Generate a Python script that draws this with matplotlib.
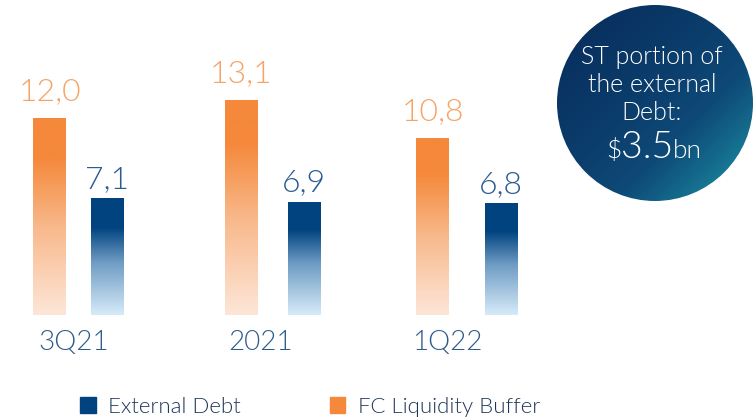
import numpy as np
import matplotlib
matplotlib.use("Agg")
import matplotlib.pyplot as plt
from matplotlib.colors import LinearSegmentedColormap
from matplotlib.patches import Circle, Rectangle
from matplotlib.offsetbox import TextArea, HPacker, AnnotationBbox

plt.rcParams['font.family'] = ['Lato', 'DejaVu Sans']

categories = ['3Q21', '2021', '1Q22']
fc_buffer = [12.0, 13.1, 10.8]
external_debt = [7.1, 6.9, 6.8]
fc_labels = ['12,0', '13,1', '10,8']
debt_labels = ['7,1', '6,9', '6,8']

ORANGE = '#F5883A'
NAVY = '#00437F'
LW = 300  # light weight

orange_cmap = LinearSegmentedColormap.from_list(
    'or', [(0, '#FDE6D8'), (0.45, '#F8B88A'), (0.8, ORANGE), (1, ORANGE)])
blue_cmap = LinearSegmentedColormap.from_list(
    'bl', [(0, '#D6EBF9'), (0.45, '#6F9CC4'), (0.75, NAVY), (1, NAVY)])
circle_cmap = LinearSegmentedColormap.from_list(
    'ci', ['#082F5E', '#0E4A78', '#1E9CA9'])

fig = plt.figure(figsize=(7.54, 4.18), dpi=100)
ax = fig.add_axes([0, 0, 1, 1])
XLIM = (-78.5 / 194, (754 - 78.5) / 194)
YLIM = (-103 / 16.42, 315 / 16.42)
ax.axis('off')

idx = np.arange(len(categories))
x_fc = -0.147 + 0.986 * idx
x_debt = 0.147 + 1.0155 * idx
x_cat = -0.023 + 0.961 * idx
w = 0.17

grad = np.linspace(0, 1, 256).reshape(-1, 1)


def gradient_bars(xs, vals, cmap):
    bars = ax.bar(xs, vals, width=w, color='none', edgecolor='none')
    for b in bars:
        x0, y0 = b.get_x(), b.get_y()
        im = ax.imshow(grad, cmap=cmap, origin='lower', aspect='auto',
                       extent=(x0, x0 + b.get_width(), y0, y0 + b.get_height()),
                       zorder=2)
        im.set_clip_path(b)
    return bars


gradient_bars(x_fc, fc_buffer, orange_cmap)
gradient_bars(x_debt, external_debt, blue_cmap)
ax.set_xlim(*XLIM)
ax.set_ylim(*YLIM)

for xi, v, lab in zip(x_fc, fc_buffer, fc_labels):
    ax.annotate(lab, (xi, v), xytext=(0, 13), textcoords='offset points',
                ha='center', va='baseline', fontsize=23, color='#F6A367',
                fontweight=LW)
for xi, v, lab in zip(x_debt, external_debt, debt_labels):
    ax.annotate(lab, (xi, v), xytext=(0, 7.5), textcoords='offset points',
                ha='center', va='baseline', fontsize=23, color='#2A5B92',
                fontweight=LW)

for xi, c in zip(x_cat, categories):
    ax.text(xi, -1.7, c, ha='center', va='center', fontsize=20,
            color='#2E5C8A', fontweight=LW)

# legend
handles = [Rectangle((0, 0), 1, 1, color=NAVY), Rectangle((0, 0), 1, 1, color=ORANGE)]
fig.legend(handles, ['External Debt', 'FC Liquidity Buffer'], loc='lower left',
           bbox_to_anchor=(0.08, -0.045), ncol=2, frameon=False,
           prop={'size': 16, 'weight': LW},
           handlelength=0.7, handleheight=0.7, handletextpad=0.55,
           columnspacing=4.0, labelcolor='#1F3556')

# circle callout
cax = fig.add_axes([557 / 754, (418 - 201) / 418, 196 / 754, 196 / 418])
cax.set_xlim(0, 1)
cax.set_ylim(0, 1)
cax.axis('off')
xx, yy = np.meshgrid(np.linspace(0, 1, 200), np.linspace(1, 0, 200))
g = (xx * 0.6 + (1 - yy) * 0.6) / 1.2
img = cax.imshow(g ** 1.6, cmap=circle_cmap, extent=(0, 1, 0, 1), aspect='auto')
circ = Circle((0.5, 0.5), 0.5, transform=cax.transData)
img.set_clip_path(circ)
for yl, line in zip([0.735, 0.592, 0.449], ['ST portion of', 'the external', 'Debt:']):
    cax.text(0.485, yl, line, ha='center', va='center', fontsize=18,
             color='white', fontweight=LW)

parts = [TextArea(r'\$', textprops=dict(fontsize=19, color='white', fontweight=LW)),
         TextArea('3.5', textprops=dict(fontsize=27, color='white', fontweight=LW)),
         TextArea('bn', textprops=dict(fontsize=19, color='white', fontweight=LW))]
pack = HPacker(children=parts, align='baseline', pad=0, sep=0)
ab = AnnotationBbox(pack, (0.495, 0.27), xycoords='axes fraction', frameon=False,
                    box_alignment=(0.5, 0.5))
cax.add_artist(ab)

fig.savefig('out.png', dpi=100)
